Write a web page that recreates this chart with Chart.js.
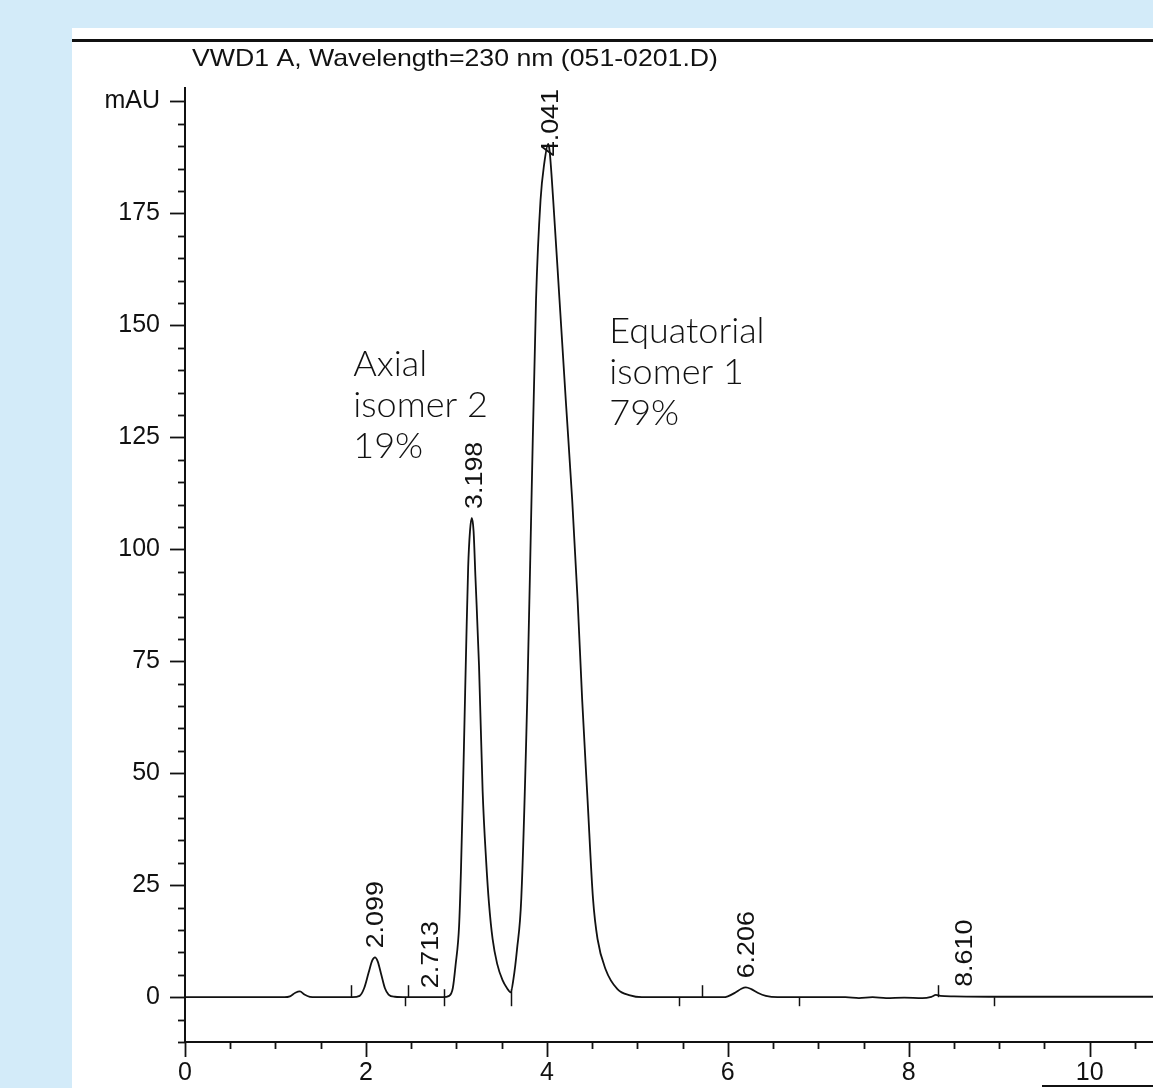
<!DOCTYPE html>
<html>
<head>
<meta charset="utf-8">
<script src="https://cdn.jsdelivr.net/npm/chart.js@4.4.1/dist/chart.umd.min.js"></script>
<style>
html,body{margin:0;padding:0;background:#D3EBF9;overflow:hidden;}
#wrap{position:absolute;left:0;top:0;width:1153px;height:1088px;}
</style>
</head>
<body>
<div id="wrap"><canvas id="c" width="1153" height="1088"></canvas></div>
<script>
// ---- data ----
const chartTitle = 'VWD1 A, Wavelength=230 nm (051-0201.D)';
const yUnitLabel = 'mAU';
const times = [0.00,1.10,1.16,1.22,1.27,1.32,1.38,1.45,1.85,1.93,1.98,2.03,2.07,2.10,2.13,2.17,2.21,2.25,2.32,2.45,
  2.85,2.92,2.96,2.99,3.03,3.05,3.07,3.09,3.11,3.13,3.15,3.17,3.19,3.21,3.25,3.29,3.33,3.36,3.40,3.45,3.51,3.56,3.60,
  3.63,3.67,3.717,3.783,3.83,3.88,3.93,3.97,4.015,4.03,4.07,4.14,4.21,4.28,4.34,4.39,4.45,4.51,4.56,4.65,4.78,4.92,
  5.05,5.95,6.00,6.08,6.15,6.20,6.26,6.33,6.42,6.55,7.30,7.45,7.60,7.75,7.95,
  8.15,8.25,8.30,8.35,8.50,9.00,10.70];
const signal = [0,0,0.2,1.0,1.3,0.6,0.1,0,0,0.3,2.0,5.5,8.2,8.9,8.0,5.0,2.0,0.6,0.1,0,
  0,0.3,2.0,7,16,28,44,62,80,96,104,107,104,94,74,46,30,21,13,7.5,3.8,2.0,1.1,
  4,10.7,22,66.5,111,155.6,178,186,190.5,189,178,155.6,133,111,88.6,66.5,44,22,13,6.2,1.8,0.4,
  0,0,0.2,1.0,1.9,2.2,1.8,1.0,0.3,0,0,-0.2,0,-0.2,-0.1,
  -0.2,0.1,0.5,0.3,0.2,0.1,0.1];
const peakTimes = [2.099, 2.713, 3.198, 4.041, 6.206, 8.610];
const peakLabels = ['2.099', '2.713', '3.198', '4.041', '6.206', '8.610'];
const peakHeights = [8.9, 0, 107, 190.5, 2.2, 0.3];
const markerTimes = [1.84, 2.43, 2.47, 2.86, 3.60, 5.46, 5.72, 6.79, 8.32, 8.94];
const markerKinds = ['up','down','up','cross','cross','down','up','down','up','down'];
const xTickValues = [0,0.5,1,1.5,2,2.5,3,3.5,4,4.5,5,5.5,6,6.5,7,7.5,8,8.5,9,9.5,10,10.5];
const xTickLabels = ['0','','','','2','','','','4','','','','6','','','','8','','','','10',''];
const yTickValues = [-10,-5,0,5,10,15,20,25,30,35,40,45,50,55,60,65,70,75,80,85,90,95,100,105,110,115,120,125,130,135,140,145,150,155,160,165,170,175,180,185,190,195,200];
const yTickLabels = ['','','0','','','','','25','','','','','50','','','','','75','','','','','100','','','','','125','','','','','150','','','','','175','','','','',yUnitLabel];
const annotations = [
  {x: 1.86, y: 138.8, lines: ['Axial', 'isomer 2', '19%']},
  {x: 4.69, y: 146.0, lines: ['Equatorial', 'isomer 1', '79%']}
];

// ---- drawing ----
const tickFont = '25px "Liberation Sans", Arial, sans-serif';

const pagePlugin = {
  id: 'page',
  beforeDraw(chart) {
    const ctx = chart.ctx;
    ctx.save();
    ctx.fillStyle = '#D3EBF9';
    ctx.fillRect(0, 0, chart.width, chart.height);
    ctx.fillStyle = '#FFFFFF';
    ctx.fillRect(72, 28, chart.width - 72, chart.height - 28);
    ctx.fillStyle = '#111';
    ctx.fillRect(72, 39, chart.width - 72, 3);
    ctx.fillRect(1042, 1085, chart.width - 1042, 2);
    // title
    ctx.font = '24px "Liberation Sans", Arial, sans-serif';
    ctx.textBaseline = 'alphabetic';
    const w = ctx.measureText(chartTitle).width;
    ctx.translate(192, 66);
    ctx.scale(526 / w, 1);
    ctx.fillText(chartTitle, 0, 0);
    ctx.restore();
  },
  afterDraw(chart) {
    const ctx = chart.ctx;
    const xs = chart.scales.x, ys = chart.scales.y;
    const area = chart.chartArea;
    ctx.save();
    ctx.strokeStyle = '#111';
    ctx.lineWidth = 1.8;
    // y ticks
    yTickValues.forEach(v => {
      const py = Math.round(ys.getPixelForValue(v)) + 0.5;
      const len = (v % 25 === 0) ? 15 : 7;
      ctx.beginPath(); ctx.moveTo(area.left - len, py); ctx.lineTo(area.left, py); ctx.stroke();
    });
    // x ticks
    xTickValues.forEach(v => {
      const px = Math.round(xs.getPixelForValue(v)) + 0.5;
      const len = (v % 2 === 0) ? 15 : 7;
      ctx.beginPath(); ctx.moveTo(px, area.bottom); ctx.lineTo(px, area.bottom + len); ctx.stroke();
    });
    // integration markers
    const y0 = ys.getPixelForValue(0);
    ctx.lineWidth = 1.5;
    markerTimes.forEach((t, i) => {
      const px = Math.round(xs.getPixelForValue(t)) + 0.5;
      const k = markerKinds[i];
      let a, b;
      if (k === 'up') { a = y0 - 12; b = y0; }
      else if (k === 'down') { a = y0; b = y0 + 9; }
      else { a = y0 - 8; b = y0 + 9; }
      ctx.beginPath(); ctx.moveTo(px, a); ctx.lineTo(px, b); ctx.stroke();
    });
    // peak retention-time labels
    ctx.fillStyle = '#111';
    ctx.font = '24px "Liberation Sans", Arial, sans-serif';
    ctx.textBaseline = 'middle';
    ctx.textAlign = 'left';
    const stretch = 1.12;
    peakTimes.forEach((t, i) => {
      const txt = peakLabels[i];
      const L = ctx.measureText(txt).width * stretch;
      const px = xs.getPixelForValue(t);
      let base = ys.getPixelForValue(peakHeights[i]) - 9;
      if (base - L < area.top + 1) base = area.top + L + 1;
      ctx.save();
      ctx.translate(px, base);
      ctx.rotate(-Math.PI / 2);
      ctx.scale(stretch, 1);
      ctx.fillText(txt, 0, 1);
      ctx.restore();
    });
    // isomer annotations
    ctx.font = '300 36px Lato, "Open Sans", sans-serif';
    ctx.textBaseline = 'alphabetic';
    annotations.forEach(a => {
      const px = xs.getPixelForValue(a.x);
      const py = ys.getPixelForValue(a.y);
      a.lines.forEach((ln, j) => ctx.fillText(ln, px, py + j * 41));
    });
    ctx.restore();
  }
};

new Chart(document.getElementById('c'), {
  type: 'line',
  data: {
    datasets: [{
      data: times.map((t, i) => ({x: t, y: signal[i]})),
      borderColor: '#111',
      borderWidth: 1.8,
      pointRadius: 0,
      fill: false,
      cubicInterpolationMode: 'monotone'
    }]
  },
  options: {
    responsive: false,
    animation: false,
    devicePixelRatio: 1,
    layout: {padding: {top: 88, right: 0, bottom: 0, left: 0}},
    plugins: {legend: {display: false}, tooltip: {enabled: false}, title: {display: false}},
    scales: {
      x: {
        type: 'linear', min: 0, max: 10.7,
        afterBuildTicks: s => { s.ticks = xTickValues.map(v => ({value: v})); },
        afterFit: s => { s.height = 46; },
        ticks: {
          color: '#111', font: {family: '"Liberation Sans", Arial, sans-serif', size: 25},
          padding: 1, maxRotation: 0, autoSkip: false,
          callback: (v, i) => xTickLabels[i]
        },
        grid: {display: true, drawOnChartArea: false, drawTicks: true, tickLength: 15, color: 'rgba(0,0,0,0)'},
        border: {display: true, color: '#111', width: 2}
      },
      y: {
        type: 'linear', min: -10, max: 203,
        afterBuildTicks: s => { s.ticks = yTickValues.map(v => ({value: v})); },
        afterFit: s => { s.width = 185; },
        ticks: {
          color: '#111', font: {family: '"Liberation Sans", Arial, sans-serif', size: 25},
          padding: 10, autoSkip: false,
          callback: (v, i) => yTickLabels[i]
        },
        grid: {display: true, drawOnChartArea: false, drawTicks: true, tickLength: 15, color: 'rgba(0,0,0,0)'},
        border: {display: true, color: '#111', width: 2}
      }
    }
  },
  plugins: [pagePlugin]
});
</script>
</body>
</html>
